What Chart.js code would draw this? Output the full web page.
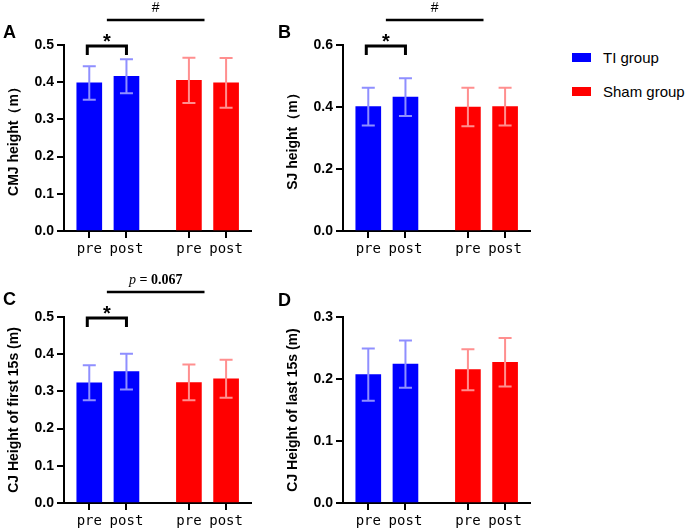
<!DOCTYPE html>
<html>
<head>
<meta charset="utf-8">
<script src="https://cdn.jsdelivr.net/npm/chart.js@4.4.1/dist/chart.umd.min.js"></script>
<style>
    body { margin: 0; background: #fff; }
    #wrap { position: relative; width: 685px; height: 529px; overflow: hidden; font-family: "Liberation Sans", Arial, sans-serif; }
    .panel { position: absolute; }
    .letter { position: absolute; font-weight: bold; font-size: 18px; line-height: 18px; color: #000; }
    .key { position: absolute; left: 572px; width: 19px; height: 9px; }
    .keyText { position: absolute; left: 603px; font-size: 15px; line-height: 15px; color: #000; }
</style>
</head>
<body>
<div id="wrap">
    <canvas id="chartA" class="panel" width="270" height="262" style="left:0;top:0"></canvas>
    <canvas id="chartB" class="panel" width="270" height="262" style="left:279px;top:0"></canvas>
    <canvas id="chartC" class="panel" width="270" height="262" style="left:0;top:272px"></canvas>
    <canvas id="chartD" class="panel" width="270" height="262" style="left:279px;top:272px"></canvas>

    <div class="letter" style="left:3px;top:23px">A</div>
    <div class="letter" style="left:278px;top:23px">B</div>
    <div class="letter" style="left:3px;top:290px">C</div>
    <div class="letter" style="left:278px;top:291px">D</div>

    <div class="key" style="top:53px;background:#0000ff"></div>
    <div class="keyText" id="keyTi" style="top:50px"></div>
    <div class="key" style="top:87px;background:#ff0000"></div>
    <div class="keyText" id="keySham" style="top:84px"></div>
</div>
<script>
// data (mean and SD per bar)

const groupNames = ['TI group', 'Sham group'];
const timeLabels = ['pre', 'post', 'pre', 'post'];
const barGroup = [0, 0, 1, 1];

const cmjMean = [0.398, 0.416, 0.405, 0.398];
const cmjSd = [0.045, 0.046, 0.061, 0.067];

const sjMean = [0.401, 0.432, 0.400, 0.401];
const sjSd = [0.061, 0.061, 0.062, 0.061];

const cjFirstMean = [0.323, 0.353, 0.324, 0.334];
const cjFirstSd = [0.047, 0.048, 0.048, 0.051];

const cjLastMean = [0.207, 0.224, 0.215, 0.227];
const cjLastSd = [0.042, 0.038, 0.033, 0.039];

const yTicksA = [0, 0.1, 0.2, 0.3, 0.4, 0.5];
const yTicksB = [0, 0.2, 0.4, 0.6];
const yTicksC = [0, 0.1, 0.2, 0.3, 0.4, 0.5];
const yTicksD = [0, 0.1, 0.2, 0.3];

const barColors = ['#0000ff', '#ff0000'];
const errColors = ['#8f8fff', '#ff8f8f'];

const sansFont = '"Liberation Sans", Arial, sans-serif';

document.getElementById('keyTi').textContent = groupNames[0];
document.getElementById('keySham').textContent = groupNames[1];

// x position of each bar, with a wider gap between the two groups
const slot = i => i + 1 + (i >= 2 ? 0.68 : 0);

const errorBars = {
    id: 'errorBars',
    afterDatasetsDraw(chart) {
        const ctx = chart.ctx;
        const ds = chart.data.datasets[0];
        const y = chart.scales.y;
        ctx.save();
        ctx.lineWidth = 2;
        chart.getDatasetMeta(0).data.forEach((bar, i) => {
            const m = ds.data[i].y;
            const top = y.getPixelForValue(m + ds.sd[i]);
            const bot = y.getPixelForValue(m - ds.sd[i]);
            ctx.strokeStyle = errColors[barGroup[i]];
            ctx.beginPath();
            ctx.moveTo(bar.x, top);
            ctx.lineTo(bar.x, bot);
            ctx.moveTo(bar.x - 6.5, top);
            ctx.lineTo(bar.x + 6.5, top);
            ctx.moveTo(bar.x - 6.5, bot);
            ctx.lineTo(bar.x + 6.5, bot);
            ctx.stroke();
        });
        ctx.restore();
    }
};

const sigMarks = {
    id: 'sigMarks',
    afterDraw(chart, args, opts) {
        if (!opts.label) return;
        const ctx = chart.ctx;
        const x = chart.scales.x;
        const top = chart.chartArea.top;
        const px = i => x.getPixelForValue(slot(i));
        ctx.save();
        ctx.strokeStyle = '#000';
        ctx.fillStyle = '#000';

        // bracket between pre and post of TI group
        ctx.lineWidth = 3;
        ctx.beginPath();
        ctx.moveTo(px(0) - 2, top + 10);
        ctx.lineTo(px(0) - 2, top + 1);
        ctx.lineTo(px(1), top + 1);
        ctx.lineTo(px(1), top + 10);
        ctx.stroke();
        ctx.font = 'bold 20px ' + sansFont;
        ctx.textAlign = 'center';
        ctx.textBaseline = 'alphabetic';
        ctx.fillText('*', (px(0) + px(1)) / 2 - 1, top + 3);

        // line between groups
        const x0 = (px(0) + px(1)) / 2 - 1;
        const x1 = (px(2) + px(3)) / 2 - 3;
        ctx.lineWidth = 2.5;
        ctx.beginPath();
        ctx.moveTo(x0, top - 25);
        ctx.lineTo(x1, top - 25);
        ctx.stroke();

        const cx = (x0 + x1) / 2;
        ctx.textBaseline = 'middle';
        if (opts.label === '#') {
            ctx.font = '14px ' + sansFont;
            ctx.fillText('#', cx, top - 37);
        } else {
            const pPart = 'p';
            const rest = ' = ' + opts.label;
            ctx.font = 'italic 14px "Liberation Serif", serif';
            const w1 = ctx.measureText(pPart).width;
            ctx.font = 'bold 14px "Liberation Serif", serif';
            const w2 = ctx.measureText(rest).width;
            const start = cx - (w1 + w2) / 2;
            ctx.textAlign = 'left';
            ctx.font = 'italic 14px "Liberation Serif", serif';
            ctx.fillText(pPart, start, top - 37);
            ctx.font = 'bold 14px "Liberation Serif", serif';
            ctx.fillText(rest, start + w1, top - 37);
        }
        ctx.restore();
    }
};

const makeChart = (id, mean, sd, yTicks, title, label) => {
    return new Chart(document.getElementById(id), {
        type: 'bar',
        data: {
            datasets: [{
                data: mean.map((v, i) => ({ x: slot(i), y: v })),
                sd: sd,
                backgroundColor: barGroup.map(g => barColors[g]),
                barThickness: 25,
            }],
        },
        options: {
            responsive: false,
            animation: false,
            devicePixelRatio: 1,
            layout: { padding: { top: 45, right: 19, bottom: 0, left: 0 } },
            plugins: {
                legend: { display: false },
                tooltip: { enabled: false },
                sigMarks: { label: label },
            },
            scales: {
                x: {
                    type: 'linear',
                    offset: false,
                    min: 0.32,
                    max: 5.35,
                    afterBuildTicks: s => { s.ticks = timeLabels.map((t, i) => ({ value: slot(i) })); },
                    afterFit: s => { s.height = 31; },
                    ticks: {
                        autoSkip: false,
                        maxRotation: 0,
                        padding: 3,
                        color: '#000',
                        font: { family: '"DejaVu Sans Mono", monospace', size: 14 },
                        callback: (v, i) => timeLabels[i],
                    },
                    grid: { offset: false, drawOnChartArea: false, tickLength: 7, color: '#000', lineWidth: 2 },
                    border: { color: '#000', width: 2 },
                },
                y: {
                    min: yTicks[0],
                    max: yTicks[yTicks.length - 1],
                    afterBuildTicks: s => { s.ticks = yTicks.map(v => ({ value: v })); },
                    afterFit: s => { s.width = 64; },
                    ticks: {
                        padding: 3,
                        color: '#000',
                        font: { family: sansFont, size: 14, weight: 'bold' },
                        callback: v => v.toFixed(1),
                    },
                    grid: { drawOnChartArea: false, tickLength: 7, color: '#000', lineWidth: 2 },
                    border: { color: '#000', width: 2 },
                    title: {
                        display: true,
                        text: title,
                        color: '#000',
                        font: { family: sansFont, size: 14, weight: 'bold' },
                        padding: { top: 6, bottom: 0 },
                    },
                },
            },
        },
        plugins: [errorBars, sigMarks],
    });
}

makeChart('chartA', cmjMean, cmjSd, yTicksA, 'CMJ height（m）', '#');
makeChart('chartB', sjMean, sjSd, yTicksB, 'SJ height（m）', '#');
makeChart('chartC', cjFirstMean, cjFirstSd, yTicksC, 'CJ Height of first 15s (m)', '0.067');
makeChart('chartD', cjLastMean, cjLastSd, yTicksD, 'CJ Height of last 15s (m)', null);
</script>
</body>
</html>
